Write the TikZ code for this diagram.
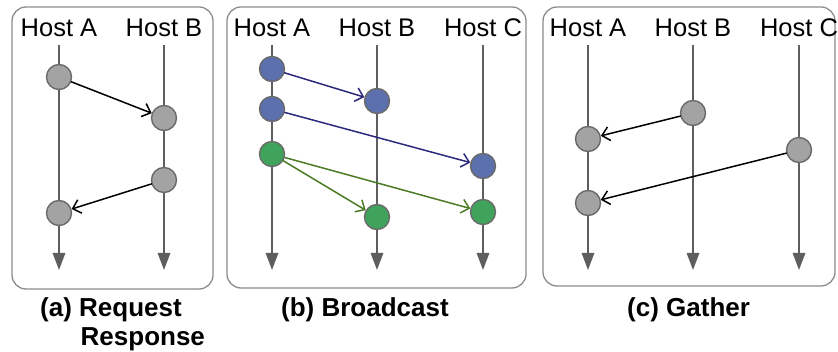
\documentclass[tikz,border=0pt]{standalone}
\usepackage{fontspec}
\setmainfont{Liberation Sans}
\usetikzlibrary{arrows.meta}
\definecolor{boxgray}{HTML}{8C8C8C}
\definecolor{linegray}{HTML}{5E5E5E}
\definecolor{dotgray}{HTML}{A3A3A3}
\definecolor{dotedge}{HTML}{6A6A6A}
\definecolor{dotblue}{HTML}{5B70AC}
\definecolor{dotgreen}{HTML}{40A35B}
\definecolor{arrblue}{HTML}{2D2A7D}
\definecolor{arrgreen}{HTML}{4B7B24}
\tikzset{
  panel/.style={draw=boxgray, line width=1.3pt, rounded corners=14pt},
  hostlabel/.style={font=\fontsize{25.5}{28}\selectfont, anchor=base, inner sep=0pt},
  caption/.style={font=\fontsize{26}{28.5}\selectfont\bfseries, anchor=base west, inner sep=0pt},
  timeline/.style={draw=linegray, line width=1.4pt, -{Triangle[length=17pt,width=12.5pt]}},
  ev/.style={circle, minimum size=25pt, inner sep=0pt, draw=dotedge, line width=1.4pt},
  evgray/.style={ev, fill=dotgray},
  evblue/.style={ev, fill=dotblue},
  evgreen/.style={ev, fill=dotgreen},
  msg/.style={line width=1.5pt, -{Straight Barb[length=7.5pt,width=14pt,line width=1.5pt]}, shorten <=-0.5pt},
}
\begin{document}
\begin{tikzpicture}[x=1pt,y=-1pt]
\useasboundingbox (0,0) rectangle (838,352);
% panels
\draw[panel] (12,7) rectangle (213,289);
\draw[panel] (227,7) rectangle (526,288);
\draw[panel] (543,7) rectangle (835,286);

% ---------- (a) ----------
\node[hostlabel] (aA) at (59,36.5) {Host A};
\node[hostlabel] (aB) at (164,36.5) {Host B};
\coordinate (aAt) at (59,45); \coordinate (aAb) at (59,270);
\coordinate (aBt) at (164,45); \coordinate (aBb) at (164,270);
\draw[timeline] (aAt) -- (aAb);
\draw[timeline] (aBt) -- (aBb);
\node[evgray] (a1) at (59,77) {};
\node[evgray] (b1) at (164,118) {};
\node[evgray] (b2) at (164,180) {};
\node[evgray] (a2) at (59,213) {};
\draw[msg] (a1) -- (b1);
\draw[msg] (b2) -- (a2);
\node[caption] (capa) at (40,317) {(a) Request};
\node[caption] (capa2) at (80.5,345.5) {Response};

% ---------- (b) ----------
\node[hostlabel] (bA) at (272,36.5) {Host A};
\node[hostlabel] (bB) at (377,36.5) {Host B};
\node[hostlabel] (bC) at (483,36.5) {Host C};
\coordinate (bAt) at (272,45); \coordinate (bAb) at (272,270);
\coordinate (bBt) at (377,45); \coordinate (bBb) at (377,270);
\coordinate (bCt) at (483,45); \coordinate (bCb) at (483,270);
\draw[timeline] (bAt) -- (bAb);
\draw[timeline] (bBt) -- (bBb);
\draw[timeline] (bCt) -- (bCb);
\node[evblue] (ba1) at (272,69) {};
\node[evblue] (ba2) at (272,109) {};
\node[evgreen] (ba3) at (272,154) {};
\node[evblue] (bb1) at (377,101) {};
\node[evgreen] (bb2) at (377,217) {};
\node[evblue] (bc1) at (483,166) {};
\node[evgreen] (bc2) at (483,212) {};
\draw[msg, arrblue] (ba1) -- (bb1);
\draw[msg, arrblue] (ba2) -- (bc1);
\draw[msg, arrgreen] (ba3) -- (bb2);
\draw[msg, arrgreen] (ba3) -- (bc2);
\node[caption] (capb) at (281,317) {(b) Broadcast};

% ---------- (c) ----------
\node[hostlabel] (cA) at (588,36.5) {Host A};
\node[hostlabel] (cB) at (693,36.5) {Host B};
\node[hostlabel] (cC) at (799,36.5) {Host C};
\coordinate (cAt) at (588,45); \coordinate (cAb) at (588,270);
\coordinate (cBt) at (693,45); \coordinate (cBb) at (693,270);
\coordinate (cCt) at (799,45); \coordinate (cCb) at (799,270);
\draw[timeline] (cAt) -- (cAb);
\draw[timeline] (cBt) -- (cBb);
\draw[timeline] (cCt) -- (cCb);
\node[evgray] (cb1) at (693,113) {};
\node[evgray] (ca1) at (588,139) {};
\node[evgray] (cc1) at (799,150) {};
\node[evgray] (ca2) at (588,203) {};
\draw[msg] (cb1) -- (ca1);
\draw[msg] (cc1) -- (ca2);
\node[caption] (capc) at (627,317) {(c) Gather};
\end{tikzpicture}
\end{document}
